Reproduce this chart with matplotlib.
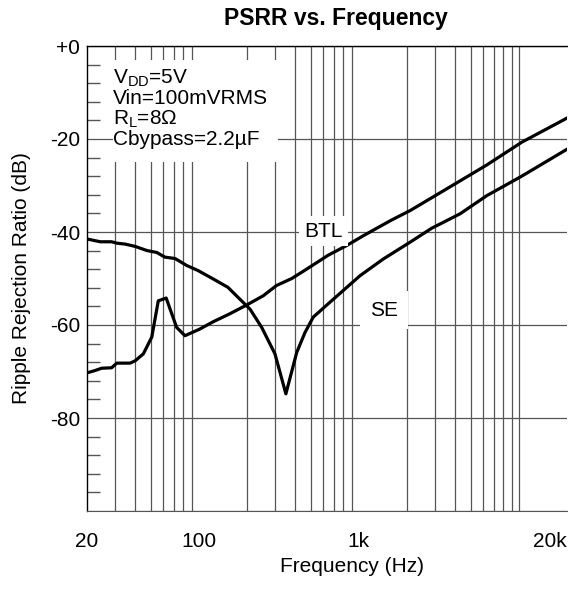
import numpy as np
import matplotlib
matplotlib.use("Agg")
import matplotlib.pyplot as plt
from matplotlib.patches import Rectangle
from matplotlib.ticker import FixedLocator

plt.rcParams['font.family'] = ['Liberation Sans', 'DejaVu Sans']
plt.rcParams['mathtext.fontset'] = 'custom'
plt.rcParams['mathtext.rm'] = 'Liberation Sans'
plt.rcParams['mathtext.it'] = 'Liberation Sans:italic'

# BTL curve
btl_freq = [20, 22.4, 24.7, 28.5, 30.7, 37.2, 40, 45, 50.8, 55.8, 62.5, 72.6, 81.9,
            101, 123, 156, 199, 253, 306, 381, 471, 643, 840, 1067, 1567, 1808,
            2090, 3067, 6293, 10420, 20000]
btl_db = [-70.3, -69.8, -69.3, -69.2, -68.2, -68.2, -67.7, -66.2, -62.6, -54.8, -54.2,
          -60.5, -62.3, -60.9, -59.3, -57.6, -55.7, -53.7, -51.5, -50.0, -48.0, -45.0,
          -42.9, -40.8, -37.6, -36.5, -35.4, -32.0, -25.6, -20.7, -15.5]

# SE curve
se_freq = [20, 24.2, 28.5, 30.7, 34.6, 40, 47.5, 54.6, 61.3, 71, 84, 99, 123, 152,
           180, 209, 247, 299, 350, 409, 461, 519, 660, 1017, 1423, 2089, 2850,
           4286, 6293, 10420, 20000]
se_db = [-41.5, -42.1, -42.1, -42.4, -42.6, -43.1, -44.0, -44.4, -45.4, -45.7, -47.2,
         -48.3, -50.1, -51.9, -54.4, -56.6, -60.5, -66.2, -74.8, -65.9, -61.6, -58.3,
         -55.1, -49.4, -45.8, -42.2, -39.2, -36.1, -32.2, -28.0, -22.2]

x_ticks = [20, 100, 1000, 20000]
x_labels = ['20', '100', '1k', '20k']
x_grid = [30, 40, 50, 60, 70, 80, 90, 100, 200, 300, 400, 500, 600, 700, 800, 900,
          1000, 2000, 3000, 4000, 5000, 6000, 7000, 8000, 9000, 10000]
y_ticks = [0, -20, -40, -60, -80, -100]
y_labels = ['+0', '-20', '-40', '-60', '-80', '']
y_minor = list(range(-96, 0, 4))

notes = ['V$_\\mathrm{DD}$=5V', 'Vin=100mVRMS', 'R$_\\mathrm{L}$=8\u03a9',
         'Cbypass=2.2\u00b5F']

grid_col = '#555555'
fs = 15

fig = plt.figure(figsize=(5.68, 6.02), dpi=100)
ax = fig.add_axes([87 / 568, 91 / 602, 480 / 568, 465 / 602])

ax.set_xscale('log')
ax.set_xlim(20, 20000)
ax.set_ylim(-100, 0)

ax.set_xticks(x_ticks)
ax.set_xticklabels(x_labels, fontsize=fs)
ax.xaxis.set_minor_locator(FixedLocator(x_grid))
ax.xaxis.set_minor_formatter(plt.NullFormatter())
ax.tick_params(axis='x', which='both', length=0, pad=15)
ax.get_xticklabels()[-1].set_horizontalalignment('right')

ax.set_yticks(y_ticks)
ax.set_yticklabels(y_labels, fontsize=fs)
ax.yaxis.set_minor_locator(FixedLocator(y_minor))
ax.tick_params(axis='y', which='major', length=0, pad=5)
ax.tick_params(axis='y', which='minor', direction='in', length=9, width=1, color=grid_col)

ax.grid(axis='x', which='minor', color=grid_col, lw=0.9)
ax.grid(axis='y', which='major', color=grid_col, lw=0.9)

ax.spines['right'].set_visible(False)
ax.spines['bottom'].set_color(grid_col)
ax.spines['left'].set_linewidth(1.0)
ax.spines['top'].set_linewidth(1.0)
ax.set_axisbelow(True)

ax.plot(btl_freq, btl_db, color='black', lw=2.3, zorder=3)
ax.plot(se_freq, se_db, color='black', lw=2.3, zorder=3)

# white box behind the conditions text
ax.add_patch(Rectangle((0.054, 0.751), 0.344, 0.219, transform=ax.transAxes,
                       facecolor='white', edgecolor='none', zorder=2))
for i, t in enumerate(notes):
    ax.text(0.054, 0.920 - i * 0.0443, t, transform=ax.transAxes, fontsize=fs,
            ha='left', va='baseline', zorder=4)

ax.text(600, -39.8, 'BTL', fontsize=fs, ha='center', va='center', zorder=4,
        bbox=dict(facecolor='white', edgecolor='none', pad=4))
ax.text(1440, -56.8, 'SE', fontsize=fs, ha='center', va='center', zorder=4,
        bbox=dict(facecolor='white', edgecolor='none', pad=7))

fig.text(336 / 568, 1 - 18 / 602, 'PSRR vs. Frequency', fontsize=16.5,
         fontweight='bold', ha='center', va='center')
fig.text(22 / 568, 1 - 278 / 602, 'Ripple Rejection Ratio (dB)', fontsize=fs,
         rotation=90, ha='center', va='center')
fig.text(352 / 568, 1 - 567 / 602, 'Frequency (Hz)', fontsize=fs,
         ha='center', va='center')

fig.savefig('out.png', dpi=100)
